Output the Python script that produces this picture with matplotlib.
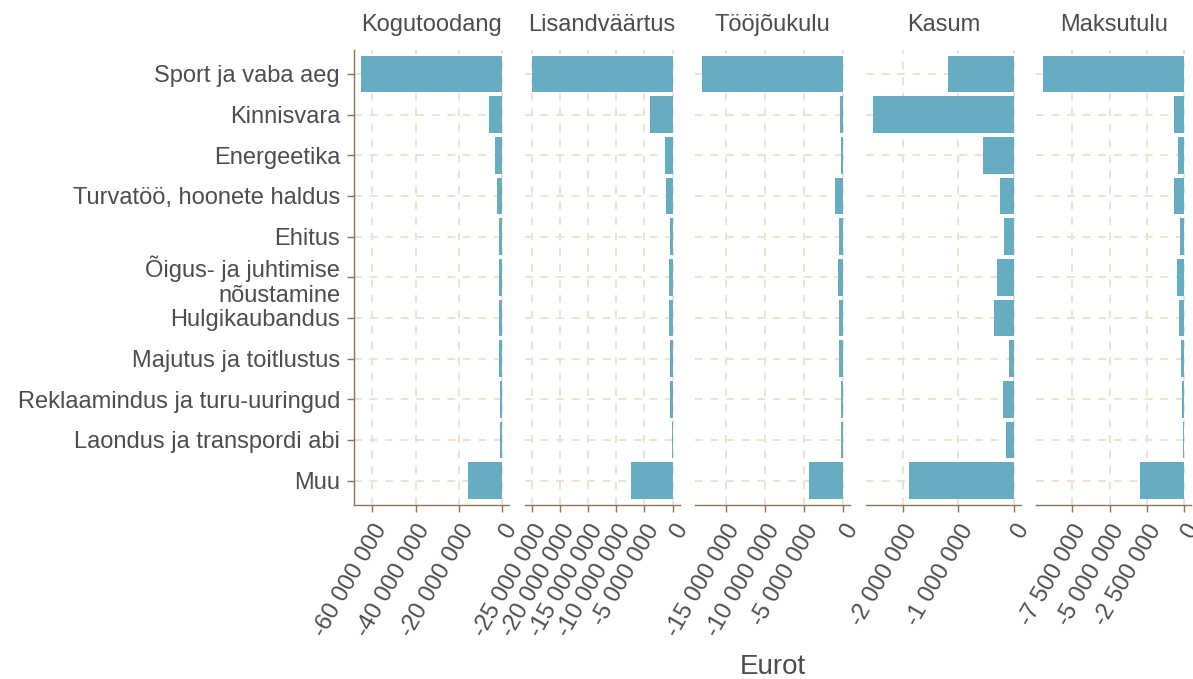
import matplotlib
matplotlib.use('Agg')
import matplotlib.pyplot as plt

# ── Data ─────────────────────────────────────────────────────────────────────
categories = ["Sport ja vaba aeg", "Kinnisvara", "Energeetika",
              "Turvatöö, hoonete haldus", "Ehitus",
              "Õigus- ja juhtimise\nnõustamine", "Hulgikaubandus",
              "Majutus ja toitlustus", "Reklaamindus ja turu-uuringud",
              "Laondus ja transpordi abi", "Muu"]

panels = ["Kogutoodang", "Lisandväärtus", "Tööjõukulu", "Kasum", "Maksutulu"]

kogutoodang   = [-65.3e6, -6.1e6, -3.4e6, -2.1e6, -1.5e6, -1.6e6, -1.2e6, -1.2e6, -1.1e6, -1.0e6, -15.8e6]
lisandvaartus = [-25.1e6, -4.0e6, -1.4e6, -1.25e6, -0.53e6, -0.7e6, -0.7e6, -0.4e6, -0.4e6, -0.18e6, -7.35e6]
toojoukulu    = [-18.0e6, -0.35e6, -0.3e6, -1.05e6, -0.5e6, -0.6e6, -0.5e6, -0.5e6, -0.25e6, -0.25e6, -4.3e6]
kasum         = [-1.18e6, -2.54e6, -0.55e6, -0.25e6, -0.18e6, -0.3e6, -0.35e6, -0.08e6, -0.2e6, -0.145e6, -1.89e6]
maksutulu     = [-9.42e6, -0.71e6, -0.42e6, -0.67e6, -0.29e6, -0.49e6, -0.35e6, -0.22e6, -0.15e6, -0.09e6, -2.95e6]

ticks_kogu = [-60e6, -40e6, -20e6, 0]
ticks_lisa = [-25e6, -20e6, -15e6, -10e6, -5e6, 0]
ticks_too  = [-15e6, -10e6, -5e6, 0]
ticks_kas  = [-2e6, -1e6, 0]
ticks_maks = [-7.5e6, -5e6, -2.5e6, 0]

series = [kogutoodang, lisandvaartus, toojoukulu, kasum, maksutulu]
tick_sets = [ticks_kogu, ticks_lisa, ticks_too, ticks_kas, ticks_maks]

# ── Style ────────────────────────────────────────────────────────────────────
BAR = '#66adc3'; GRID = '#efe2d4'; AXIS = '#8b7355'; TEXT = '#4d4d4d'
plt.rcParams['font.family'] = ['Liberation Sans', 'DejaVu Sans']
FS = 17

def fmt(v):
    return f"{int(round(v)):,}".replace(",", " ")

W, H = 1193, 679
fig = plt.figure(figsize=(W / 100, H / 100), dpi=100)

top_px, bot_px = 49.6, 505.0
left0, step, width = 354.0, 170.6, 155.0
ypos = list(range(len(categories)))

for k, (name, vals, ticks) in enumerate(zip(panels, series, tick_sets)):
    lx = left0 + k * step
    ax = fig.add_axes([lx / W, 1 - bot_px / H, width / W, (bot_px - top_px) / H])
    ax.barh(ypos, vals, height=0.9, color=BAR, zorder=3)

    lo = min(vals)
    span = -lo
    ax.set_xlim(lo - 0.05 * span, 0.05 * span)
    ax.set_ylim(len(categories) - 0.4, -0.6)

    ax.set_axisbelow(True)
    ax.grid(True, color=GRID, lw=1.4, linestyle=(0, (4, 4)))

    ax.set_xticks(ticks)
    ax.set_xticklabels([fmt(t) for t in ticks], rotation=60, ha='right',
                       va='top', rotation_mode='anchor', fontsize=FS, color=TEXT)
    ax.tick_params(axis='x', length=5, width=1, color=AXIS, pad=6)

    for s in ['top', 'right']:
        ax.spines[s].set_visible(False)
    ax.spines['bottom'].set_color(AXIS)
    ax.spines['bottom'].set_linewidth(1.0)

    ax.set_yticks(ypos)
    if k == 0:
        ax.set_yticklabels(categories, fontsize=FS, color=TEXT, linespacing=1.15)
        ax.tick_params(axis='y', length=5, width=1, color=AXIS, pad=5)
        ax.spines['left'].set_color(AXIS)
        ax.spines['left'].set_linewidth(1.0)
    else:
        ax.set_yticklabels([])
        ax.tick_params(axis='y', length=0)
        ax.spines['left'].set_visible(False)

    ax.text(0.5, 1 + 24.6 / (bot_px - top_px), name, transform=ax.transAxes,
            ha='center', va='center', fontsize=FS, color=TEXT)

fig.text(772.5 / W, 1 - 667 / H, 'Eurot', ha='center', va='center',
         fontsize=20, color=TEXT)

fig.savefig('out.png', dpi=100, facecolor='white')
